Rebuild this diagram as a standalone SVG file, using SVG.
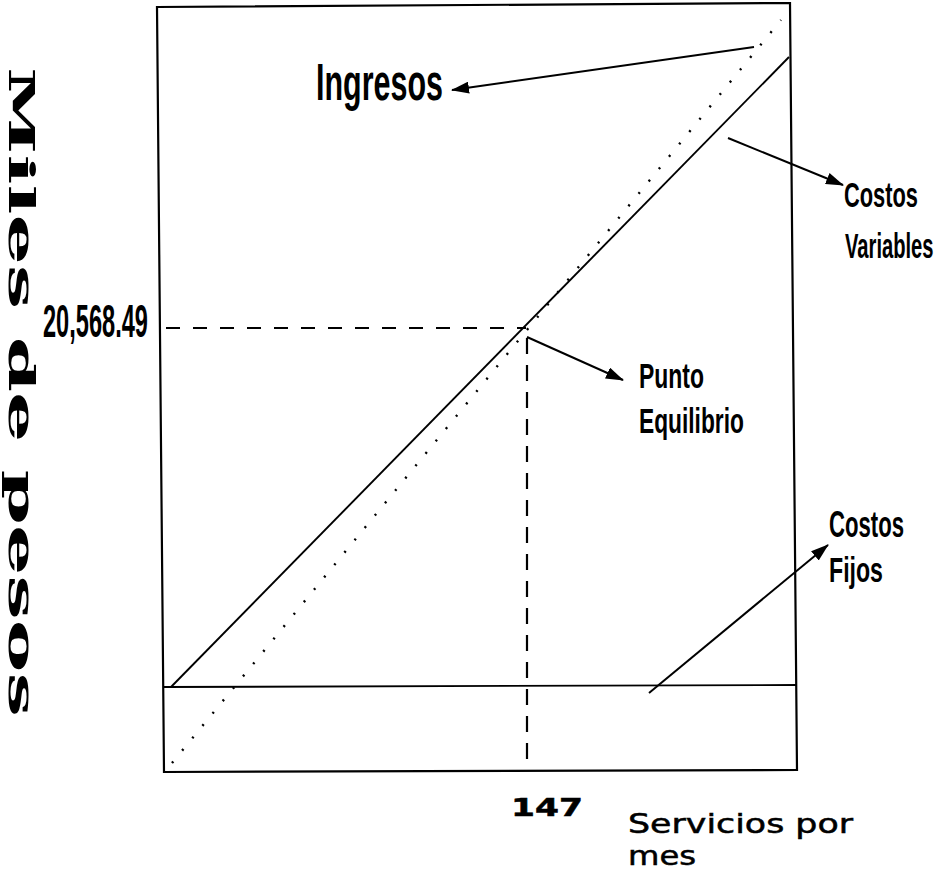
<svg xmlns="http://www.w3.org/2000/svg" width="936" height="872" viewBox="0 0 936 872">
<defs>
<marker id="ah" viewBox="0 0 18 12" refX="17" refY="6" markerWidth="18" markerHeight="12" markerUnits="userSpaceOnUse" orient="auto">
<path d="M0,0 L18,6 L0,12 z" fill="#000"/>
</marker>
<style>
.frame{fill:none;stroke:#000;stroke-width:2.2}
.solid{fill:none;stroke:#000;stroke-width:1.9}
.dot{fill:none;stroke:#000;stroke-width:2.4;stroke-dasharray:2 14}
.dash{fill:none;stroke:#000;stroke-width:1.9;stroke-dasharray:14 13}
.vdash{fill:none;stroke:#000;stroke-width:2.2;stroke-dasharray:16 11}
.arr{fill:none;stroke:#000;stroke-width:2;marker-end:url(#ah)}
.lbl{font-family:"Liberation Sans",Arial,sans-serif;font-weight:bold;fill:#000}
.ax{font-family:"DejaVu Sans",Verdana,sans-serif;fill:#000;stroke:#000;stroke-width:0.5}
.yax{font-family:"DejaVu Serif",serif;font-weight:bold;fill:#000}
</style>
</defs>
<rect width="936" height="872" fill="#fff"/>
<g id="chart">
<polygon class="frame" points="157,7 790,3 797,770 164,772"/>
<line id="costos-fijos-line" class="solid" x1="164" y1="687" x2="797" y2="685"/>
<line id="costos-totales-line" class="solid" x1="171" y1="687" x2="789" y2="57"/>
<line id="ingresos-line" class="dot" x1="172" y1="763" x2="781" y2="20"/>
<line id="eq-h" class="dash" x1="166" y1="328" x2="526" y2="328"/>
<line id="eq-v" class="vdash" x1="527" y1="338" x2="527" y2="760"/>
</g>
<g id="connectors">
<line class="arr" x1="754" y1="47" x2="452" y2="90"/>
<line class="arr" x1="728" y1="138" x2="843" y2="185"/>
<line class="arr" x1="527" y1="337" x2="623" y2="380"/>
<line class="arr" x1="649" y1="693" x2="828" y2="545"/>
</g>
<g id="ingresos">
<text class="lbl" transform="translate(316,100) scale(0.586,1)" font-size="52">Ingresos</text>
</g>
<g id="costos-variables">
<text class="lbl" transform="translate(844,207) scale(0.624,1)" font-size="35">Costos</text>
<text class="lbl" transform="translate(845,258) scale(0.576,1)" font-size="35">Variables</text>
</g>
<g id="punto-equilibrio">
<text class="lbl" transform="translate(639,388) scale(0.637,1)" font-size="36">Punto</text>
<text class="lbl" transform="translate(639,433) scale(0.632,1)" font-size="36">Equilibrio</text>
</g>
<g id="costos-fijos">
<text class="lbl" transform="translate(829,537) scale(0.615,1)" font-size="36">Costos</text>
<text class="lbl" transform="translate(829,582) scale(0.643,1)" font-size="36">Fijos</text>
</g>
<g id="y-value">
<text class="lbl" transform="translate(43,337) scale(0.502,1)" font-size="47">20,568.49</text>
</g>
<g id="x-value">
<text class="ax" x="511" y="816" font-size="24" font-weight="bold" textLength="72" lengthAdjust="spacingAndGlyphs">147</text>
</g>
<g id="x-axis-title">
<text class="ax" x="628" y="833" font-size="26" textLength="225" lengthAdjust="spacingAndGlyphs">Servicios por</text>
<text class="ax" x="628" y="865" font-size="26" textLength="68" lengthAdjust="spacingAndGlyphs">mes</text>
</g>
<g id="y-axis-title">
<text class="yax" transform="translate(9,67) rotate(90)" x="0" y="0" font-size="35" textLength="650" lengthAdjust="spacingAndGlyphs">Miles de pesos</text>
</g>
</svg>
